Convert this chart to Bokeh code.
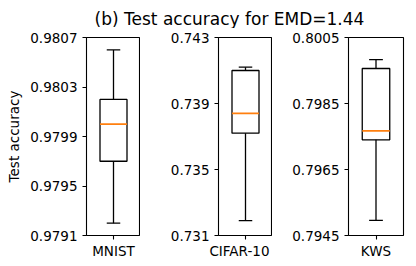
from bokeh.plotting import figure
from bokeh.layouts import column, row
from bokeh.models import (Range1d, FactorRange, FixedTicker, PrintfTickFormatter,
                          ColumnDataSource)
from bokeh.core.properties import value
from bokeh.transform import dodge
from bokeh.embed import file_html
from bokeh.resources import INLINE

# ---- data ----
categories = ["MNIST", "CIFAR-10", "KWS"]
whisker_low = [0.97920, 0.7319, 0.79496]
q1_values = [0.97970, 0.7372, 0.79740]
median_values = [0.98000, 0.7384, 0.79767]
q3_values = [0.98020, 0.7410, 0.79956]
whisker_high = [0.98060, 0.7412, 0.79983]
y_tick_values = [
    [0.9791, 0.9795, 0.9799, 0.9803, 0.9807],
    [0.731, 0.735, 0.739, 0.743],
    [0.7945, 0.7965, 0.7985, 0.8005],
]
y_tick_formats = ["%.4f", "%.3f", "%.4f"]
title_text = "(b) Test accuracy for EMD=1.44"
y_label = "Test accuracy"

FONT = "DejaVu Sans"
FS = "13.5px"
ORANGE = "#ff7f0e"
LW = 1.3

layout_params = [
    dict(min_border_left=86, min_border_right=0, frame_width=54),
    dict(min_border_left=78, min_border_right=0, frame_width=54),
    dict(min_border_left=76, min_border_right=13, frame_width=55),
]

panels = []
for i, cat in enumerate(categories):
    lp = layout_params[i]
    ticks = y_tick_values[i]
    p = figure(frame_width=lp["frame_width"], frame_height=198,
               x_range=FactorRange(factors=[cat]),
               y_range=Range1d(ticks[0], ticks[-1]),
               output_backend="svg", toolbar_location=None,
               min_border_left=lp["min_border_left"],
               min_border_right=lp["min_border_right"],
               min_border_top=9, min_border_bottom=31)
    p.background_fill_color = "white"
    p.border_fill_color = "white"
    p.outline_line_color = "black"
    p.outline_line_alpha = 1.0
    p.outline_line_width = 1.1
    p.grid.visible = False

    src = ColumnDataSource(dict(x=[cat], lo=[whisker_low[i]], q1=[q1_values[i]],
                                med=[median_values[i]], q3=[q3_values[i]],
                                hi=[whisker_high[i]]))
    # whiskers
    p.segment(x0="x", x1="x", y0="q3", y1="hi", source=src, line_color="black", line_width=LW)
    p.segment(x0="x", x1="x", y0="lo", y1="q1", source=src, line_color="black", line_width=LW)
    # caps
    for key in ("hi", "lo"):
        p.segment(x0=dodge("x", -0.125, range=p.x_range), x1=dodge("x", 0.125, range=p.x_range),
                  y0=key, y1=key, source=src, line_color="black", line_width=LW)
    # box
    p.vbar(x="x", width=0.5, bottom="q1", top="q3", source=src,
           fill_color=None, line_color="black", line_width=LW)
    # median
    p.segment(x0=dodge("x", -0.25, range=p.x_range), x1=dodge("x", 0.25, range=p.x_range),
              y0="med", y1="med", source=src, line_color=ORANGE, line_width=1.8)

    p.yaxis.ticker = FixedTicker(ticks=ticks)
    p.yaxis.formatter = PrintfTickFormatter(format=y_tick_formats[i])
    for ax in (p.xaxis, p.yaxis):
        ax.axis_line_color = None
        ax.major_tick_out = 4
        ax.major_tick_in = 0
        ax.major_tick_line_width = 1.1
        ax.minor_tick_line_color = None
        ax.major_tick_line_color = "black"
        ax.major_label_text_font = FONT
        ax.major_label_text_font_size = FS
        ax.major_label_text_color = "black"
    p.yaxis.major_label_standoff = 5
    p.xaxis.major_label_standoff = 3
    p.xaxis.major_label_orientation = "horizontal"
    if i == 0:
        p.yaxis.axis_label = y_label
        p.yaxis.axis_label_text_font = FONT
        p.yaxis.axis_label_text_font_size = FS
        p.yaxis.axis_label_text_font_style = "normal"
        p.yaxis.axis_label_text_color = "black"
        p.yaxis.axis_label_standoff = 5
    panels.append(p)

# title strip
tp = figure(frame_width=416, frame_height=28, x_range=Range1d(0, 416), y_range=Range1d(0, 28),
            output_backend="svg", toolbar_location=None, min_border=0)
tp.outline_line_color = None
tp.axis.visible = False
tp.grid.visible = False
tp.background_fill_color = "white"
tp.border_fill_color = "white"
tp.text(x=[229], y=[9.5], text=[title_text], text_align="center",
        text_baseline="alphabetic", text_font=value(FONT), text_font_size="17px",
        text_color="black")

layout = column(tp, row(*panels, spacing=0), spacing=0)
open("out.html", "w").write(file_html(layout, INLINE))
